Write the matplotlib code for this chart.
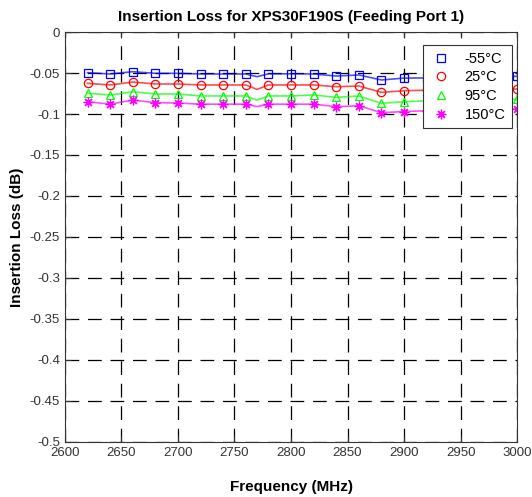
import numpy as np
import matplotlib
matplotlib.use('Agg')
import matplotlib.pyplot as plt

plt.rcParams['font.family'] = ['Liberation Sans', 'DejaVu Sans']

# marker points, every 20 MHz
freq = [2620, 2640, 2660, 2680, 2700, 2720, 2740, 2760, 2780, 2800,
        2820, 2840, 2860, 2880, 2900, 2920, 2940, 2960, 2980, 3000]
il_m55 = [-0.0496, -0.0512, -0.0484, -0.0504, -0.0504, -0.0512, -0.0512, -0.0512, -0.051, -0.051,
          -0.0512, -0.0537, -0.0524, -0.0585, -0.0562, -0.056, -0.055, -0.055, -0.055, -0.054]
il_25 = [-0.0626, -0.0646, -0.061, -0.0634, -0.0634, -0.0646, -0.0646, -0.0646, -0.0646, -0.0646,
         -0.0646, -0.0667, -0.0659, -0.0736, -0.0716, -0.071, -0.070, -0.070, -0.070, -0.0695]
il_95 = [-0.0748, -0.0768, -0.0728, -0.0756, -0.0756, -0.078, -0.078, -0.078, -0.078, -0.078,
         -0.0768, -0.0797, -0.078, -0.087, -0.085, -0.084, -0.083, -0.083, -0.083, -0.082]
il_150 = [-0.085, -0.088, -0.083, -0.0862, -0.0866, -0.088, -0.088, -0.088, -0.088, -0.088,
          -0.088, -0.091, -0.090, -0.0984, -0.097, -0.096, -0.095, -0.095, -0.095, -0.094]

# dip seen on the traces between markers at 2770 MHz
dip_freq = 2770
dip_vals = [-0.0545, -0.070, -0.083, -0.091]

labels = ['-55\u00b0C', '25\u00b0C', '95\u00b0C', '150\u00b0C']
colors = ['#0000ff', '#ff0000', '#00ff00', '#ff00ff']
markers = ['s', 'o', '^', (8, 2, 0)]

fig = plt.figure(figsize=(5.32, 4.97), dpi=100)
ax = fig.add_axes([0.122, 0.1107, 0.850, 0.8249])

series = [il_m55, il_25, il_95, il_150]
for vals, dip, c, m, lab in zip(series, dip_vals, colors, markers, labels):
    lx = freq[:8] + [dip_freq] + freq[8:]
    ly = vals[:8] + [dip] + vals[8:]
    ax.plot(lx, ly, '-', color=c, lw=1.2, alpha=0.7)
    ms = 7 if m == markers[3] else 6
    ax.plot(freq, vals, linestyle='none', marker=m, color=c, mfc='none',
            ms=ms, mew=0.9, label=lab)

ax.set_xlim(2600, 3000)
ax.set_ylim(-0.5, 0)
ax.set_xticks(np.arange(2600, 3001, 50))
ax.set_yticks(np.arange(-0.5, 0.001, 0.05))
ax.set_yticklabels(['-0.5', '-0.45', '-0.4', '-0.35', '-0.3', '-0.25', '-0.2',
                    '-0.15', '-0.1', '-0.05', '0'])
ax.grid(True, color='black', linestyle=(0, (11, 7)), linewidth=0.9)
ax.tick_params(direction='in', length=4, labelsize=9.5, colors='#333333')
ax.tick_params(top=True, right=False)
for s in ax.spines.values():
    s.set_color('#333333')
    s.set_linewidth(0.8)

ax.set_title('Insertion Loss for XPS30F190S (Feeding Port 1)', fontsize=11,
             fontweight='bold', pad=8)
ax.set_xlabel('Frequency (MHz)', fontsize=11, fontweight='bold', labelpad=15)
ax.set_ylabel('Insertion Loss (dB)', fontsize=11, fontweight='bold', labelpad=4)

leg = ax.legend(loc='upper right', bbox_to_anchor=(0.989, 0.968), fontsize=10.5,
                fancybox=False, framealpha=1, edgecolor='#333333',
                handletextpad=0.9, borderpad=0.45, labelspacing=0.32,
                handlelength=1.5, borderaxespad=0)
leg.get_frame().set_linewidth(0.8)

fig.savefig('out.png', dpi=100)
